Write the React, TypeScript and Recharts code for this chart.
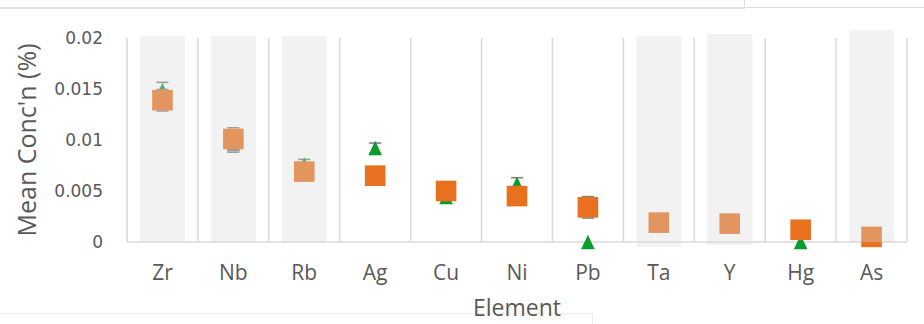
import { ComposedChart, XAxis, YAxis, Scatter, ReferenceArea, ReferenceLine } from 'recharts'

const elements = ['Zr', 'Nb', 'Rb', 'Ag', 'Cu', 'Ni', 'Pb', 'Ta', 'Y', 'Hg', 'As']
// orange squares
const meanA = [0.0139, 0.0101, 0.0069, 0.0065, 0.005, 0.0045, 0.0034, 0.0019, 0.0018, 0.0012, 0.0005]
const errA = [0.00105, 0.0011, null, null, null, null, 0.00105, null, null, null, null]
// green triangles
const meanB = [0.0149, 0.0096, 0.0076, 0.0092, 0.0044, 0.0057, 0, null, null, 0, null]
const errB = [0.00075, 0.0008, 0.0005, 0.0005, null, 0.0006, null, null, null, null, null]
// shaded bands
const bandLow = [0, 0, 0, null, null, null, null, -0.0005, -0.0003, null, 0]
const bandHigh = [0.0202, 0.0202, 0.0202, null, null, null, null, 0.0202, 0.0204, null, 0.0208]
const yTicks = [0, 0.005, 0.01, 0.015, 0.02]

const orange = '#E8701F'
const green = '#0D9B30'
const capColor = '#7f7f7f'
const textColor = '#595959'
const gridColor = '#d9d9d9'

const dataA = elements.map((name, i) => ({ x: i + 0.5, name, v: meanA[i] }))
const dataB = elements
  .map((name, i) => ({ x: i + 0.5, name, v: meanB[i] }))
  .filter((d) => d.v !== null)

// error bar caps (mean ± error)
function caps(means: (number | null)[], errs: (number | null)[]) {
  const out: { x: number; v: number }[] = []
  means.forEach((m, i) => {
    const e = errs[i]
    if (m === null || e === null) return
    out.push({ x: i + 0.5, v: m + e })
    out.push({ x: i + 0.5, v: m - e })
  })
  return out
}
const capsA = caps(meanA, errA)
const capsB = caps(meanB, errB)

function Square(props: any) {
  const { cx, cy } = props
  if (cx == null || cy == null) return null
  return <rect x={cx - 10.3} y={cy - 10.3} width={20.6} height={20.6} fill={orange} />
}

function Triangle(props: any) {
  const { cx, cy } = props
  if (cx == null || cy == null) return null
  return <polygon points={`${cx},${cy - 7.3} ${cx + 6.8},${cy + 7.2} ${cx - 6.8},${cy + 7.2}`} fill={green} />
}

function Cap(props: any) {
  const { cx, cy } = props
  if (cx == null || cy == null) return null
  return <line x1={cx - 6} x2={cx + 6} y1={cy} y2={cy} stroke={capColor} strokeWidth={1.6} />
}

export default function App() {
  return (
    <div style={{ position: 'absolute', left: 0, top: 0, width: 924, height: 324, background: '#fff' }}>
      <div style={{ position: 'absolute', left: 0, top: 7, width: 745, height: 2, background: '#e3e3e3' }} />
      <div style={{ position: 'absolute', left: 745, top: 7, width: 179, height: 1, background: '#dedede' }} />
      <div style={{ position: 'absolute', left: 744, top: 0, width: 1, height: 8, background: '#dcdcdc' }} />
      <div style={{ position: 'absolute', left: 0, top: 313, width: 592, height: 1, background: '#efefef' }} />
      <div style={{ position: 'absolute', left: 592, top: 313, width: 1, height: 11, background: '#efefef' }} />
      <ComposedChart width={924} height={324} margin={{ top: 38, right: 17, bottom: 0, left: 0 }} style={{ position: 'absolute', left: 0, top: 0 }}>
        <XAxis
          type="number"
          dataKey="x"
          domain={[0, 11]}
          ticks={elements.map((_, i) => i + 0.5)}
          tickFormatter={(v: number) => elements[Math.floor(v)]}
          interval={0}
          height={82}
          tickLine={false}
          tickSize={0}
          tickMargin={23}
          axisLine={{ stroke: gridColor, strokeWidth: 1.5 }}
          tick={{ fill: textColor, fontSize: 21, fontFamily: 'Open Sans' }}
          label={{ value: 'Element', position: 'insideBottom', offset: 8, style: { fill: textColor, fontSize: 23, fontFamily: 'Open Sans' } }}
        />
        <YAxis
          type="number"
          domain={[0, 0.02]}
          ticks={yTicks}
          interval={0}
          width={127}
          tickLine={false}
          axisLine={false}
          tickSize={0}
          tickMargin={24}
          tick={{ fill: textColor, fontSize: 17, fontFamily: 'DejaVu Sans' }}
          label={{ value: "Mean Conc'n (%)", angle: -90, position: 'insideLeft', offset: 27, style: { textAnchor: 'middle', fill: textColor, fontSize: 25, fontFamily: 'Open Sans' } }}
        />
        {elements.map((_, i) => (
          <ReferenceLine key={'g' + i} segment={[{ x: i, y: 0 }, { x: i, y: 0.02 }]} stroke={gridColor} strokeWidth={1.5} />
        ))}
        <ReferenceLine segment={[{ x: 11, y: 0 }, { x: 11, y: 0.02 }]} stroke={gridColor} strokeWidth={1.5} />
        <Scatter data={capsB} dataKey="v" shape={Cap} isAnimationActive={false} />
        <Scatter data={dataB} dataKey="v" shape={Triangle} isAnimationActive={false} />
        <Scatter data={capsA} dataKey="v" shape={Cap} isAnimationActive={false} />
        <Scatter data={dataA} dataKey="v" shape={Square} isAnimationActive={false} />
        {elements.map((name, i) =>
          bandHigh[i] === null ? null : (
            <ReferenceArea
              key={'b' + name}
              x1={i + 0.5 - 0.317}
              x2={i + 0.5 + 0.317}
              y1={bandLow[i] as number}
              y2={bandHigh[i] as number}
              ifOverflow="visible"
              fill="#dadada"
              fillOpacity={0.35}
              stroke="none"
              zIndex={700}
            />
          )
        )}
      </ComposedChart>
    </div>
  )
}
